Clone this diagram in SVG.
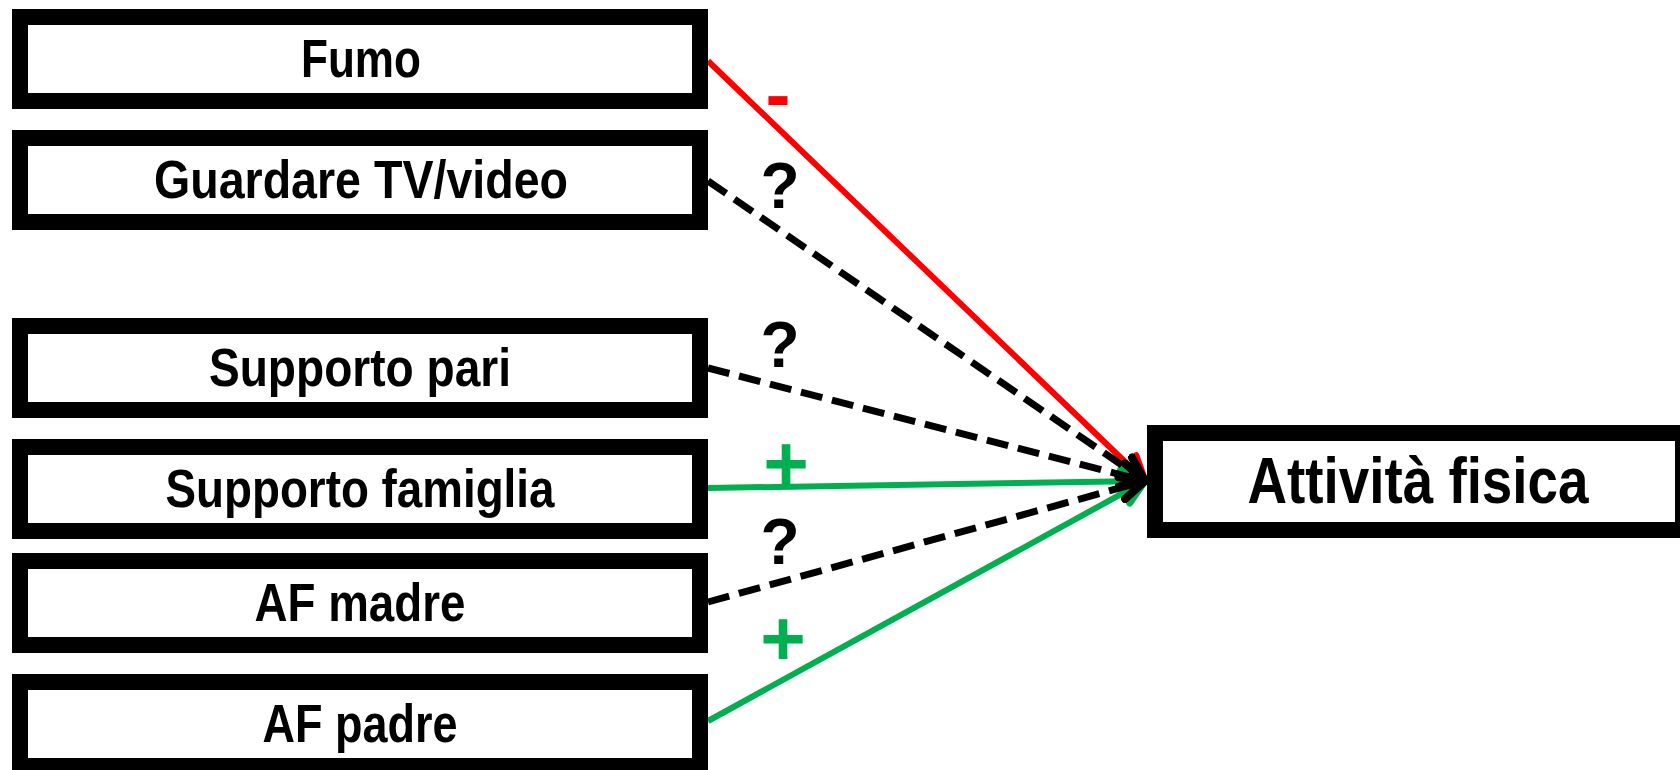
<svg xmlns="http://www.w3.org/2000/svg" width="1680" height="770" viewBox="0 0 1680 770">
<style>
.box{fill:#fff;stroke:#000;stroke-width:16}
.lbl{font-family:"Liberation Sans Narrow","Arial Narrow","Liberation Sans",sans-serif;font-weight:bold;font-size:54px;fill:#000;text-anchor:middle}
.big{font-size:64px}
.red{stroke:#ff0000;stroke-width:6;fill:none}
.grn{stroke:#00b050;stroke-width:6;fill:none}
.dsh{stroke:#000;stroke-width:7;fill:none;stroke-dasharray:22 10}
.sign{font-family:"Liberation Sans Narrow","Arial Narrow","Liberation Sans",sans-serif;font-weight:bold;text-anchor:middle}
</style>
<defs>
<marker id="aR" markerUnits="userSpaceOnUse" viewBox="0 0 32 32" refX="28" refY="16" markerWidth="32" markerHeight="32" orient="auto"><path d="M4,4 L28,16 L4,28" fill="none" stroke="#ff0000" stroke-width="7" stroke-linecap="round" stroke-linejoin="round"/></marker>
<marker id="aG" markerUnits="userSpaceOnUse" viewBox="0 0 32 32" refX="28" refY="16" markerWidth="32" markerHeight="32" orient="auto"><path d="M4,4 L28,16 L4,28" fill="none" stroke="#00b050" stroke-width="7" stroke-linecap="round" stroke-linejoin="round"/></marker>
<marker id="aK" markerUnits="userSpaceOnUse" viewBox="0 0 32 32" refX="28" refY="16" markerWidth="32" markerHeight="32" orient="auto"><path d="M4,4 L28,16 L4,28" fill="none" stroke="#000" stroke-width="8" stroke-linecap="round" stroke-linejoin="round"/></marker>
</defs>
<rect width="1680" height="770" fill="#fff"/>
<g id="connectors">
<line class="red" x1="708" y1="61" x2="1145" y2="481" marker-end="url(#aR)"/>
<line class="grn" x1="708" y1="488" x2="1145" y2="481" marker-end="url(#aG)"/>
<line class="grn" x1="708" y1="721" x2="1145" y2="481" marker-end="url(#aG)"/>
<line class="dsh" x1="708" y1="181" x2="1145" y2="481" marker-end="url(#aK)"/>
<line class="dsh" x1="708" y1="368" x2="1145" y2="481" marker-end="url(#aK)"/>
<line class="dsh" x1="708" y1="602" x2="1145" y2="481" marker-end="url(#aK)"/>
<text class="sign" x="778" y="120" font-size="75" fill="#ff0000" style="font-family:'Liberation Sans',sans-serif">-</text>
<text class="sign" x="780" y="208" font-size="64" fill="#000">?</text>
<text class="sign" x="780" y="367" font-size="64" fill="#000">?</text>
<text class="sign" x="786" y="490" font-size="78" fill="#00b050">+</text>
<text class="sign" x="780" y="564" font-size="64" fill="#000">?</text>
<text class="sign" x="783" y="665" font-size="78" fill="#00b050">+</text>
</g>
<g id="n-fumo"><rect class="box" x="20" y="17" width="680" height="84"/><text class="lbl" x="361" y="77" textLength="120" lengthAdjust="spacingAndGlyphs">Fumo</text></g>
<g id="n-tv"><rect class="box" x="20" y="138" width="680" height="84"/><text class="lbl" x="361" y="198" textLength="414" lengthAdjust="spacingAndGlyphs">Guardare TV/video</text></g>
<g id="n-pari"><rect class="box" x="20" y="326" width="680" height="84"/><text class="lbl" x="360" y="386" textLength="302" lengthAdjust="spacingAndGlyphs">Supporto pari</text></g>
<g id="n-famiglia"><rect class="box" x="20" y="447" width="680" height="84"/><text class="lbl" x="360" y="507" textLength="389" lengthAdjust="spacingAndGlyphs">Supporto famiglia</text></g>
<g id="n-madre"><rect class="box" x="20" y="561" width="680" height="84"/><text class="lbl" x="360" y="621" textLength="211" lengthAdjust="spacingAndGlyphs">AF madre</text></g>
<g id="n-padre"><rect class="box" x="20" y="682" width="680" height="84"/><text class="lbl" x="360" y="742" textLength="195" lengthAdjust="spacingAndGlyphs">AF padre</text></g>
<g id="n-attivita"><rect class="box" x="1155" y="433" width="528" height="97"/><text class="lbl big" x="1418" y="503" textLength="341" lengthAdjust="spacingAndGlyphs">Attività fisica</text></g>
</svg>
